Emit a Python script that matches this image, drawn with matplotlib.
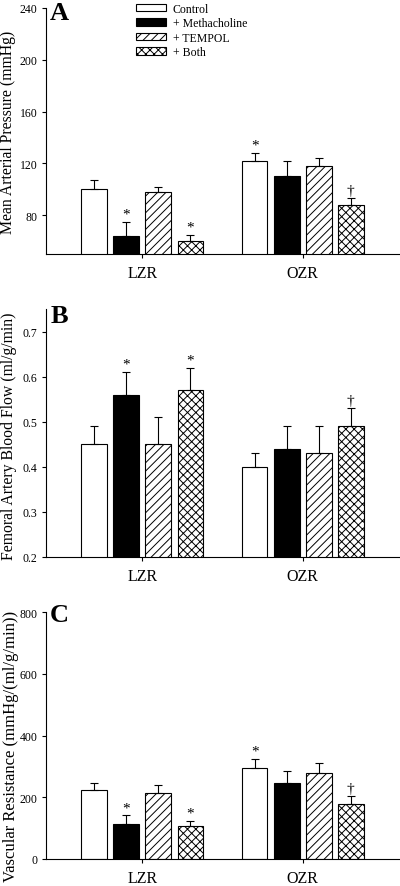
import numpy as np
import matplotlib
matplotlib.use("Agg")
import matplotlib.pyplot as plt

plt.rcParams['font.family'] = ['Liberation Serif', 'DejaVu Serif']
plt.rcParams['hatch.linewidth'] = 0.7

groups = ['LZR', 'OZR']
series = ['Control', '+ Methacholine', '+ TEMPOL', '+ Both']

# mean arterial pressure (mmHg), mean and SE per series: [LZR, OZR]
map_mean = [[100, 122], [64, 110], [98, 118], [60, 88]]
map_err = [[7, 6], [11, 12], [4, 6], [5, 5]]
map_marks = [['', '*'], ['*', ''], ['', ''], ['*', '\u2020']]

# femoral artery blood flow (ml/g/min)
fbf_mean = [[0.45, 0.40], [0.56, 0.44], [0.45, 0.43], [0.57, 0.49]]
fbf_err = [[0.04, 0.03], [0.05, 0.05], [0.06, 0.06], [0.05, 0.04]]
fbf_marks = [['', ''], ['*', ''], ['', ''], ['*', '\u2020']]

# vascular resistance (mmHg/(ml/g/min))
vr_mean = [[223, 294], [113, 246], [215, 278], [106, 178]]
vr_err = [[24, 29], [28, 39], [24, 32], [18, 25]]
vr_marks = [['', '*'], ['*', ''], ['', ''], ['*', '\u2020']]

faces = ['white', 'black', 'white', 'white']
hatches = [None, None, '////', 'xxxx']

fig = plt.figure(figsize=(4, 8.87), dpi=100)
W, H = 400.0, 887.0


def panel(top, bottom, mean, err, marks, ylim, yticks, ylabel, letter, lety,
          labx, laby, labsize, fmt):
    ax = fig.add_axes([46 / W, 1 - bottom / H, 353 / W, (bottom - top) / H])
    x = np.arange(len(groups))
    step, width = 0.2, 0.16
    for i in range(len(series)):
        xs = x + (i - 1.5) * step
        ax.bar(xs, mean[i], width, color=faces[i], edgecolor='black',
               linewidth=0.8, hatch=hatches[i], label=series[i], zorder=2)
        ax.errorbar(xs, mean[i], yerr=[np.zeros(len(groups)), err[i]], fmt='none',
                    ecolor='black', elinewidth=0.8, capsize=3, capthick=0.8, zorder=3)
        for j in range(len(groups)):
            if marks[i][j]:
                ax.annotate(marks[i][j], (xs[j], mean[i][j] + err[i][j]),
                            xytext=(0, 1), textcoords='offset points',
                            ha='center', va='bottom', fontsize=11)
    ax.set_xlim(-0.6, 1.6)
    ax.set_ylim(*ylim)
    ax.set_yticks(yticks)
    ax.set_yticklabels([fmt.format(v) for v in yticks])
    ax.set_xticks(x)
    ax.set_xticklabels(groups)
    ax.spines['top'].set_visible(False)
    ax.spines['right'].set_visible(False)
    ax.spines['left'].set_linewidth(0.8)
    ax.spines['bottom'].set_linewidth(0.8)
    ax.tick_params(axis='y', length=3, width=0.8, labelsize=8.5, pad=3)
    ax.tick_params(axis='x', length=3, width=0.8, labelsize=11.5, pad=5)
    ax.set_ylabel(ylabel, fontsize=labsize)
    ax.yaxis.set_label_coords(labx, laby)
    ax.text(0.012, lety, letter, transform=ax.transAxes, fontsize=19,
            fontweight='bold', ha='left', va='baseline')
    return ax


axA = panel(9, 255, map_mean, map_err, map_marks, (50, 240), [80, 120, 160, 200, 240],
            'Mean Arterial Pressure (mmHg)', 'A', 0.955, -0.085, 0.5, 11.3, '{:d}')
axA.legend(loc='upper left', bbox_to_anchor=(0.255, 1.022), frameon=False,
           fontsize=8.5, handlelength=2.5, handleheight=0.6, handletextpad=0.6,
           labelspacing=0.22, borderpad=0, borderaxespad=0)

panel(310, 558, fbf_mean, fbf_err, fbf_marks, (0.2, 0.75), [0.2, 0.3, 0.4, 0.5, 0.6, 0.7],
      'Femoral Artery Blood Flow (ml/g/min)', 'B', 0.948, -0.083, 0.49, 11.3, '{:.1f}')

panel(613, 860, vr_mean, vr_err, vr_marks, (0, 800), [0, 200, 400, 600, 800],
      'Vascular Resistance (mmHg/(ml/g/min))', 'C', 0.962, -0.077, 0.46, 12, '{:d}')

fig.savefig('out.png', dpi=100)
